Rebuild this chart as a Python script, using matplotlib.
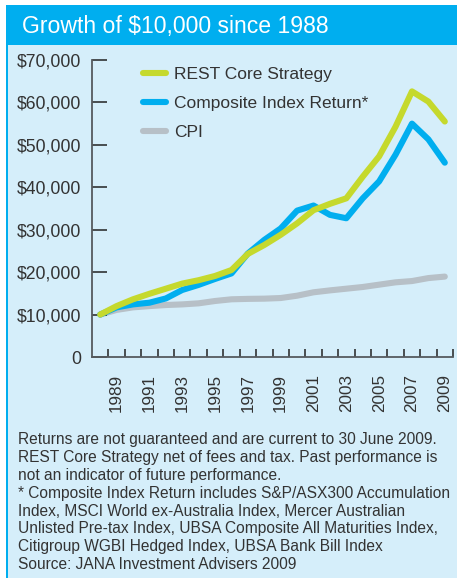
import matplotlib
matplotlib.use("Agg")
import matplotlib.pyplot as plt
import matplotlib.patches as mpatches
import numpy as np

plt.rcParams['font.family'] = ['Liberation Sans', 'DejaVu Sans']

years = np.arange(1988, 2010)
rest_core = [10000, 12000, 13600, 14900, 16100, 17300, 18100, 19100, 20500, 24300, 26400,
             28800, 31500, 34600, 36100, 37400, 42500, 47300, 54300, 62600, 60200, 55500]
composite = [10000, 11700, 12400, 12800, 13800, 15800, 17000, 18400, 19700, 24400, 27600,
             30300, 34500, 35700, 33500, 32700, 37400, 41400, 47700, 55000, 51300, 45800]
cpi = [10000, 11100, 11700, 12000, 12250, 12400, 12650, 13200, 13600, 13700, 13750,
       13900, 14450, 15250, 15700, 16100, 16500, 17050, 17600, 17900, 18600, 18950]
series_names = ["REST Core Strategy", "Composite Index Return*", "CPI"]
yticks = [0, 10000, 20000, 30000, 40000, 50000, 60000, 70000]
ytick_labels = ["0", "$10,000", "$20,000", "$30,000", "$40,000", "$50,000", "$60,000", "$70,000"]
xtick_years = list(range(1989, 2010, 2))
title = "Growth of $10,000 since 1988"
notes = ("Returns are not guaranteed and are current to 30 June 2009.\n"
         "REST Core Strategy net of fees and tax. Past performance is\n"
         "not an indicator of future performance.\n"
         "* Composite Index Return includes S&P/ASX300 Accumulation\n"
         "Index, MSCI World ex-Australia Index, Mercer Australian\n"
         "Unlisted Pre-tax Index, UBSA Composite All Maturities Index,\n"
         "Citigroup WGBI Hedged Index, UBSA Bank Bill Index\n"
         "Source: JANA Investment Advisers 2009")

W, H = 457, 578
GREEN = "#C5D92D"
BLUE = "#00AEEF"
GREY = "#B7C0C7"
PANEL = "#D5EEFA"
TXT = "#333333"
AXC = "#555a5e"

fig = plt.figure(figsize=(W / 100, H / 100), dpi=100)
fig.patch.set_facecolor("white")

def px(x, y, w, h):
    # pixel box (top-left origin) -> figure fraction
    return (x / W, 1 - (y + h) / H, w / W, h / H)

# panel + header + left border
def box(x, y, w, h, c):
    l, b, ww, hh = px(x, y, w, h)
    fig.patches.append(mpatches.Rectangle((l, b), ww, hh, transform=fig.transFigure,
                                          fc=c, ec="none", zorder=-10))

box(7, 5, 450, 573, PANEL)
box(7, 5, 450, 40, BLUE)
box(6, 5, 2, 573, BLUE)
fig.text(22 / W, 1 - 26 / H, title, color="white", fontsize=16.6, va="center", ha="left")

ax = fig.add_axes(px(92, 60, 361, 297))
ax.set_facecolor("none")
ax.plot(years, rest_core, color=GREEN, lw=4.4, solid_capstyle="round", label=series_names[0], zorder=3)
ax.plot(years, composite, color=BLUE, lw=4.4, solid_capstyle="round", label=series_names[1], zorder=2)
ax.plot(years, cpi, color=GREY, lw=4.4, solid_capstyle="round", label=series_names[2], zorder=1)

ax.set_xlim(1987.5, 2009.5)
ax.set_ylim(0, 70000)
for s in ["top", "right"]:
    ax.spines[s].set_visible(False)
for s in ["left", "bottom"]:
    ax.spines[s].set_color(AXC)
    ax.spines[s].set_linewidth(1.3)

ax.set_yticks(yticks)
ax.set_yticklabels(ytick_labels)
ax.tick_params(axis="y", direction="in", length=11, width=1.1, color="#222222",
               pad=8, labelsize=12.7, labelcolor=TXT)
ax.set_xticks(xtick_years)
ax.set_xticklabels([str(y) for y in xtick_years], rotation=90)
ax.tick_params(axis="x", which="major", length=0, pad=12, labelsize=12.3, labelcolor=TXT)
ax.set_xticks(np.arange(1988.5, 2010, 1.0), minor=True)
ax.tick_params(axis="x", which="minor", direction="in", length=6, width=1.1, color="#222222")

leg = ax.legend(loc="upper left", bbox_to_anchor=(42 / 361, 1.005), frameon=False,
                fontsize=12.5, handlelength=1.35, handletextpad=0.45, labelspacing=0.8,
                borderpad=0)
for t in leg.get_texts():
    t.set_color(TXT)

fig.text(18 / W, 1 - 432 / H, notes, color=TXT, fontsize=11.2, va="top", ha="left",
         linespacing=1.24)

fig.savefig("out.png", dpi=100, facecolor=fig.get_facecolor())
